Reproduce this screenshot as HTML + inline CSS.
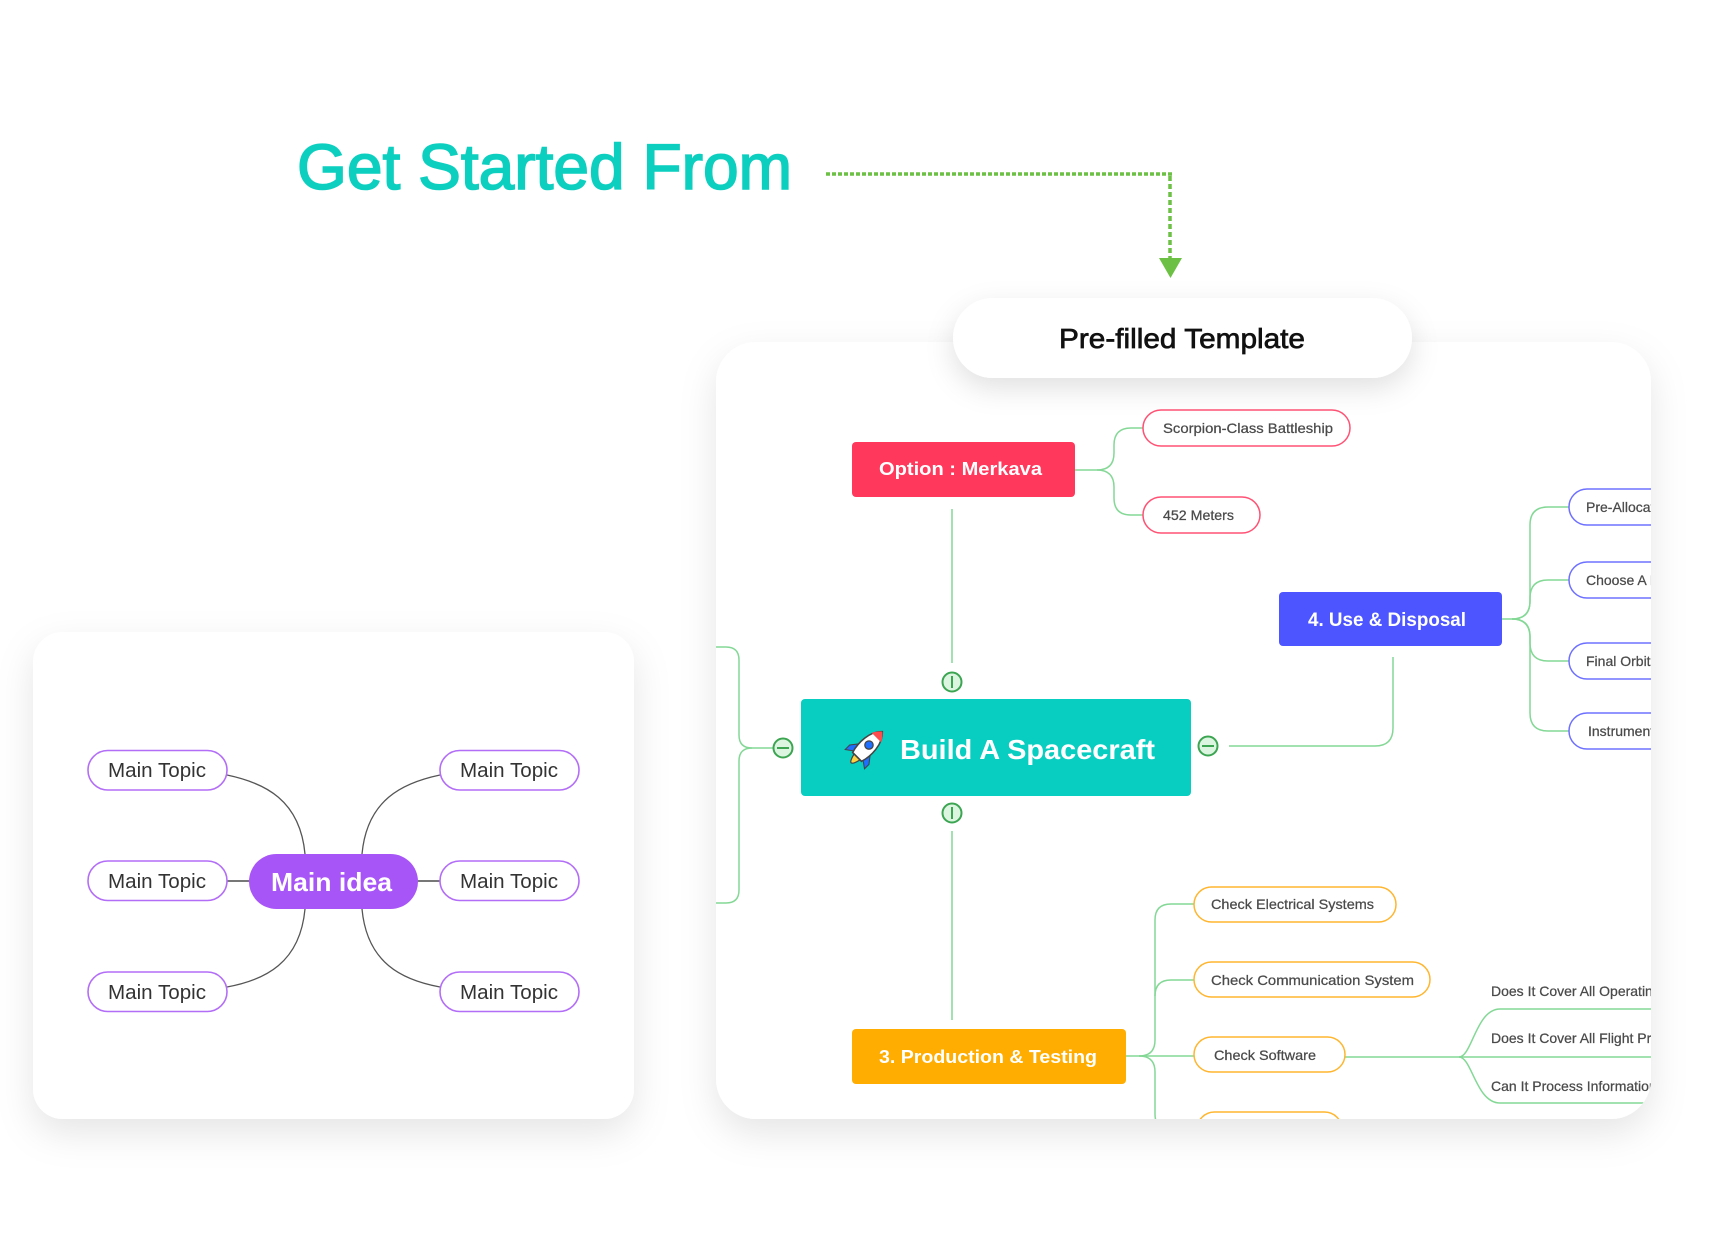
<!DOCTYPE html>
<html><head><meta charset="utf-8"><style>
html,body{margin:0;padding:0;background:#fff;}
svg{display:block;}
text{font-family:"Liberation Sans",Arial,sans-serif;}
</style></head><body>
<svg width="1712" height="1248" viewBox="0 0 1712 1248" xmlns="http://www.w3.org/2000/svg">
<defs>
<filter id="sh" x="-20%" y="-20%" width="140%" height="150%"><feDropShadow dx="0" dy="14" stdDeviation="18" flood-color="#000" flood-opacity="0.10"/></filter>
<filter id="sh2" x="-20%" y="-60%" width="140%" height="220%"><feDropShadow dx="0" dy="10" stdDeviation="14" flood-color="#000" flood-opacity="0.12"/></filter>
<clipPath id="rc"><rect x="716" y="342" width="935" height="777" rx="40"/></clipPath>
</defs>

<!-- Left card -->
<rect x="33" y="632" width="601" height="487" rx="30" fill="#fff" filter="url(#sh)"/>
<g fill="none" stroke="#555" stroke-width="1.3">
<path d="M305,854 C300,800 265,783 227,775"/>
<path d="M362,854 C367,800 402,783 440,775"/>
<path d="M305,909 C300,963 265,980 227,987"/>
<path d="M362,909 C367,963 402,980 440,987"/>
</g>
<g stroke="#777" stroke-width="2"><line x1="227" y1="881" x2="249" y2="881"/><line x1="418" y1="881" x2="440" y2="881"/></g>
<g fill="#fff" stroke="#b36ef7" stroke-width="1.6">
<rect x="88" y="750.5" width="139" height="39.5" rx="19.7"/>
<rect x="88" y="861" width="139" height="39.5" rx="19.7"/>
<rect x="88" y="972" width="139" height="39.5" rx="19.7"/>
<rect x="440" y="750.5" width="139" height="39.5" rx="19.7"/>
<rect x="440" y="861" width="139" height="39.5" rx="19.7"/>
<rect x="440" y="972" width="139" height="39.5" rx="19.7"/>
</g>
<g font-size="20" fill="#333">
<text x="108" y="777" textLength="98" lengthAdjust="spacingAndGlyphs">Main Topic</text>
<text x="108" y="888" textLength="98" lengthAdjust="spacingAndGlyphs">Main Topic</text>
<text x="108" y="999" textLength="98" lengthAdjust="spacingAndGlyphs">Main Topic</text>
<text x="460" y="777" textLength="98" lengthAdjust="spacingAndGlyphs">Main Topic</text>
<text x="460" y="888" textLength="98" lengthAdjust="spacingAndGlyphs">Main Topic</text>
<text x="460" y="999" textLength="98" lengthAdjust="spacingAndGlyphs">Main Topic</text>
</g>
<rect x="249" y="854" width="169" height="55" rx="27.5" fill="#a855f7"/>
<text x="271" y="891" font-size="26" font-weight="bold" fill="#fff" textLength="121" lengthAdjust="spacingAndGlyphs">Main idea</text>

<!-- Right card -->
<rect x="716" y="342" width="935" height="777" rx="40" fill="#fff" filter="url(#sh)"/>
<g clip-path="url(#rc)">
<g fill="none" stroke="#84d896" stroke-width="1.5">
<path d="M773,748 H752 Q739,748 739,735 V660 Q739,647 726,647 H700"/>
<path d="M752,748 Q739,748 739,761 V890 Q739,903 726,903 H700"/>
<line x1="952" y1="509" x2="952" y2="663"/>
<line x1="952" y1="831" x2="952" y2="1020"/>
<path d="M1229,746 H1375 Q1393,746 1393,728 V657"/>
<path d="M1075,470 H1097 Q1114,470 1114,453 V445 Q1114,428 1131,428 H1143"/>
<path d="M1097,470 Q1114,470 1114,487 V498 Q1114,515 1131,515 H1143"/>
<path d="M1502,619 H1512 Q1530,619 1530,601 V525 Q1530,507 1548,507 H1569"/>
<path d="M1512,619 Q1530,619 1530,601 V598 Q1530,580 1548,580 H1569"/>
<path d="M1512,619 Q1530,619 1530,637 V643 Q1530,661 1548,661 H1569"/>
<path d="M1512,619 Q1530,619 1530,637 V713 Q1530,731 1548,731 H1569"/>
<path d="M1126,1056 H1194"/>
<path d="M1139,1056 Q1155,1056 1155,1040 V920 Q1155,904 1171,904 H1194"/>
<path d="M1155,996 Q1155,980 1171,980 H1194"/>
<path d="M1139,1056 Q1155,1056 1155,1072 V1114 Q1155,1130 1171,1130 H1197"/>
<path d="M1345,1057 H1660"/>
<path d="M1459,1057 C1472,1057 1476,1009 1500,1009 H1660"/>
<path d="M1459,1057 C1472,1057 1476,1103 1500,1103 H1660"/>
</g>

<!-- Option Merkava -->
<rect x="852" y="442" width="223" height="55" rx="4" fill="#ff385c"/>
<text x="879" y="475" font-size="18" font-weight="bold" fill="#fff" textLength="163" lengthAdjust="spacingAndGlyphs">Option : Merkava</text>
<g fill="#fff" stroke="#ff5274" stroke-width="1.5">
<rect x="1143" y="410" width="207" height="36" rx="18"/>
<rect x="1143" y="497" width="117" height="36" rx="18"/>
</g>
<g font-size="14" fill="#4a4a4a" stroke="#4a4a4a" stroke-width="0.25">
<text x="1163" y="433" textLength="170" lengthAdjust="spacingAndGlyphs">Scorpion-Class Battleship</text>
<text x="1163" y="520" textLength="71" lengthAdjust="spacingAndGlyphs">452 Meters</text>
</g>

<!-- Use & Disposal -->
<rect x="1279" y="592" width="223" height="54" rx="4" fill="#4c55ff"/>
<text x="1308" y="626" font-size="19" font-weight="bold" fill="#fff" textLength="158" lengthAdjust="spacingAndGlyphs">4. Use &amp; Disposal</text>
<g fill="#fff" stroke="#6e70ff" stroke-width="1.5">
<rect x="1569" y="489" width="200" height="36" rx="18"/>
<rect x="1569" y="562" width="200" height="36" rx="18"/>
<rect x="1569" y="643" width="200" height="36" rx="18"/>
<rect x="1569" y="713" width="200" height="36" rx="18"/>
</g>
<g font-size="14" fill="#4a4a4a" stroke="#4a4a4a" stroke-width="0.25">
<text x="1586" y="512">Pre-Allocate Orbit</text>
<text x="1586" y="585">Choose A Launch Site</text>
<text x="1586" y="666">Final Orbit Insertion</text>
<text x="1588" y="736">Instrument Check</text>
</g>

<!-- Center -->
<rect x="801" y="699" width="390" height="97" rx="4" fill="#08cdc1"/>
<text x="900" y="759" font-size="28" font-weight="bold" fill="#fff" textLength="255" lengthAdjust="spacingAndGlyphs">Build A Spacecraft</text>
<g transform="translate(866,748) rotate(45) scale(1.05)">
<path d="M-4,12 Q0,28 4,12 Z" fill="#ffd23f" stroke="#444" stroke-width="1.2"/>
<path d="M-6,0 L-13,9 L-13,15 L-6,10 Z" fill="#1e6fff" stroke="#444" stroke-width="1"/>
<path d="M6,0 L13,9 L13,15 L6,10 Z" fill="#1e6fff" stroke="#444" stroke-width="1"/>
<path d="M0,-22 C9,-14 9,2 6,12 L-6,12 C-9,2 -9,-14 0,-22 Z" fill="#fff" stroke="#444" stroke-width="1.5"/>
<path d="M0,-22 C3,-19.5 5,-17 6.3,-14 L-6.3,-14 C-5,-17 -3,-19.5 0,-22 Z" fill="#ff4d4d"/>
<circle cx="0" cy="-4" r="4" fill="#1e6fff" stroke="#444" stroke-width="1.2"/>
</g>

<!-- collapse icons -->
<g fill="#dcf5e0" stroke="#3ca552" stroke-width="2">
<circle cx="952" cy="682" r="9.5"/>
<circle cx="952" cy="813" r="9.5"/>
<circle cx="783" cy="748" r="9.5"/>
<circle cx="1208" cy="746" r="9.5"/>
</g>
<g stroke="#3ca552" stroke-width="2">
<line x1="952" y1="676" x2="952" y2="688"/>
<line x1="952" y1="807" x2="952" y2="819"/>
<line x1="777" y1="748" x2="789" y2="748"/>
<line x1="1202" y1="746" x2="1214" y2="746"/>
</g>

<!-- Production -->
<rect x="852" y="1029" width="274" height="55" rx="4" fill="#ffad00"/>
<text x="879" y="1063" font-size="18" font-weight="bold" fill="#fff" textLength="218" lengthAdjust="spacingAndGlyphs">3. Production &amp; Testing</text>
<g fill="#fff" stroke="#ffb52e" stroke-width="1.5">
<rect x="1194" y="887" width="202" height="35" rx="17.5"/>
<rect x="1194" y="962" width="236" height="35" rx="17.5"/>
<rect x="1194" y="1037" width="151" height="35" rx="17.5"/>
<rect x="1197" y="1112" width="145" height="35" rx="17.5"/>
</g>
<g font-size="14" fill="#4a4a4a" stroke="#4a4a4a" stroke-width="0.25">
<text x="1211" y="909" textLength="163" lengthAdjust="spacingAndGlyphs">Check Electrical Systems</text>
<text x="1211" y="985" textLength="203" lengthAdjust="spacingAndGlyphs">Check Communication System</text>
<text x="1214" y="1060" textLength="102" lengthAdjust="spacingAndGlyphs">Check Software</text>
<text x="1491" y="996">Does It Cover All Operating Modes</text>
<text x="1491" y="1043">Does It Cover All Flight Profiles</text>
<text x="1491" y="1091">Can It Process Information</text>
</g>
</g>

<!-- Pre-filled pill -->
<rect x="953" y="298" width="459" height="80" rx="40" fill="#fff" filter="url(#sh2)"/>
<text x="1059" y="348" font-size="28" fill="#111" stroke="#111" stroke-width="0.7" textLength="246" lengthAdjust="spacingAndGlyphs">Pre-filled Template</text>

<!-- Title -->
<text x="297" y="189" font-size="64" fill="#0ccfc0" stroke="#0ccfc0" stroke-width="1.6" textLength="495" lengthAdjust="spacingAndGlyphs">Get Started From</text>

<!-- dotted arrow -->
<line x1="826" y1="174" x2="1172" y2="174" stroke="#6cc144" stroke-width="3.5" stroke-dasharray="4 2"/>
<line x1="1170" y1="176" x2="1170" y2="258" stroke="#6cc144" stroke-width="3.5" stroke-dasharray="5 3"/>
<path d="M1159,258 L1182,258 L1170.5,278 Z" fill="#6cc144"/>
</svg>
</body></html>
